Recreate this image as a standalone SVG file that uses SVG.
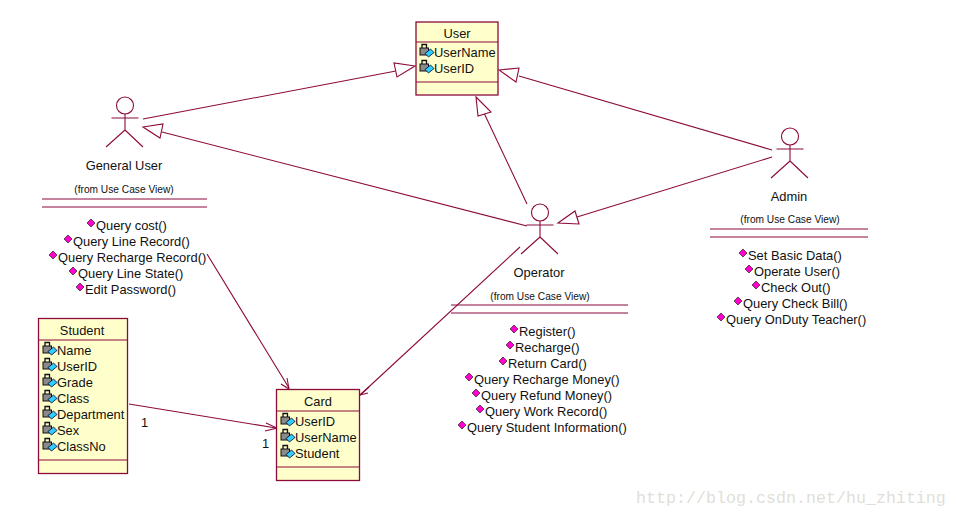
<svg xmlns="http://www.w3.org/2000/svg" width="957" height="516" viewBox="0 0 957 516">
<style>
text{font-family:"Liberation Sans",Arial,sans-serif;font-size:12.9px;fill:#111}
.c{text-anchor:middle}
text.s{font-size:10.2px}
.box{fill:#ffffcc;stroke:#8c0a3c;stroke-width:1.3}
.ln{fill:none;stroke:#8c0a3c;stroke-width:1.1}
.tri{fill:#fff;stroke:#8c0a3c;stroke-width:1.1}
.m{fill:#ff00cc;stroke:#222;stroke-width:.7}
text.wm{font-family:"Liberation Mono",monospace;font-size:16.67px;fill:#dfdfd7}
</style>
<defs>
<g id="attr"><rect x="0" y="1" width="8.500" height="7" fill="#8a8a8a" stroke="#111" stroke-width="1"/><path d="M2 1V-2.500H6.500V1" fill="none" stroke="#111" stroke-width="1.300"/><path d="M5 6.500L10.500 2L14 5.500L8.500 10Z" fill="#33ccff" stroke="#002" stroke-width=".8"/></g>
<path id="op" class="m" d="M0 1L4 -3L8 1L4 5Z"/>
<g id="actor"><circle cx="0" cy="-12.500" r="8.500" class="ln"/><path class="ln" d="M0 -4V12M-13.500 0H13.500M0 12L-19 29M0 12L18 29"/></g>
</defs>
<g id="connectors">
<path class="ln" d="M143 119L396 71M527 204L484 113M772 150L519 76M527 226L162 132M772 157L577 217M520 247L359 396M207 254L289 388M129 404L276 428"/>
<path class="tri" d="M415 66L394 63L397 77Z"/>
<path class="tri" d="M476 97L491 112L478 116Z"/>
<path class="tri" d="M499 70L519 68L516 82Z"/>
<path class="tri" d="M143 127L163 124L160 138Z"/>
<path class="tri" d="M558 223L575 211L579 224Z"/>
<path class="ln" d="M287 378L289 389L281 384M369 387L360 395L368 393M266 423L277 428L265 431"/>
</g>
<g id="user"><rect class="box" x="416" y="22" width="82" height="73"/><path class="ln" d="M416 42H498M416 82H498"/><text class="c" x="457" y="38">User</text><use href="#attr" x="420" y="47"/><text x="434" y="57">UserName</text><use href="#attr" x="420" y="63"/><text x="434" y="73">UserID</text></g>
<g id="general-user"><use href="#actor" x="125" y="118"/><text class="c" x="124" y="170">General User</text><text class="c s" x="124" y="193">(from Use Case View)</text><path class="ln" d="M42 199H207M42 207H207"/>
<use href="#op" x="87" y="222"/><text x="96" y="230">Query cost()</text>
<use href="#op" x="64" y="238"/><text x="73" y="246">Query Line Record()</text>
<use href="#op" x="49" y="254"/><text x="58" y="262">Query Recharge Record()</text>
<use href="#op" x="69" y="270"/><text x="78" y="278">Query Line State()</text>
<use href="#op" x="76" y="286"/><text x="85" y="294">Edit Password()</text></g>
<g id="operator"><use href="#actor" x="540" y="225"/><text class="c" x="539" y="277">Operator</text><text class="c s" x="540" y="300">(from Use Case View)</text><path class="ln" d="M451 305H628M451 313H628"/>
<use href="#op" x="510" y="328"/><text x="519" y="336">Register()</text>
<use href="#op" x="506" y="344"/><text x="515" y="352">Recharge()</text>
<use href="#op" x="499" y="360"/><text x="508" y="368">Return Card()</text>
<use href="#op" x="465" y="376"/><text x="474" y="384">Query Recharge Money()</text>
<use href="#op" x="472" y="392"/><text x="481" y="400">Query Refund Money()</text>
<use href="#op" x="476" y="408"/><text x="485" y="416">Query Work Record()</text>
<use href="#op" x="458" y="424"/><text x="467" y="432">Query Student Information()</text></g>
<g id="admin"><use href="#actor" x="790" y="149"/><text class="c" x="789" y="201">Admin</text><text class="c s" x="790" y="223">(from Use Case View)</text><path class="ln" d="M710 229H868M710 237H868"/>
<use href="#op" x="739" y="252"/><text x="748" y="260">Set Basic Data()</text>
<use href="#op" x="745" y="268"/><text x="754" y="276">Operate User()</text>
<use href="#op" x="752" y="284"/><text x="761" y="292">Check Out()</text>
<use href="#op" x="734" y="300"/><text x="743" y="308">Query Check Bill()</text>
<use href="#op" x="717" y="316"/><text x="726" y="324">Query OnDuty Teacher()</text></g>
<g id="student"><rect class="box" x="38.500" y="318.500" width="89" height="155"/><path class="ln" d="M38 340H128M38 460H128"/><text class="c" x="82" y="335">Student</text>
<use href="#attr" x="43" y="345"/><text x="57" y="355">Name</text>
<use href="#attr" x="43" y="361"/><text x="57" y="371">UserID</text>
<use href="#attr" x="43" y="377"/><text x="57" y="387">Grade</text>
<use href="#attr" x="43" y="393"/><text x="57" y="403">Class</text>
<use href="#attr" x="43" y="409"/><text x="57" y="419">Department</text>
<use href="#attr" x="43" y="425"/><text x="57" y="435">Sex</text>
<use href="#attr" x="43" y="441"/><text x="57" y="451">ClassNo</text></g>
<g id="card"><rect class="box" x="276.500" y="389.500" width="83" height="91"/><path class="ln" d="M276 411H360M276 467H360"/><text class="c" x="318" y="406">Card</text>
<use href="#attr" x="281" y="416"/><text x="295" y="426">UserID</text>
<use href="#attr" x="281" y="432"/><text x="295" y="442">UserName</text>
<use href="#attr" x="281" y="448"/><text x="295" y="458">Student</text></g>
<text x="141" y="427">1</text>
<text x="262" y="448">1</text>
<text class="wm" x="636" y="503">http://blog.csdn.net/hu_zhiting</text>
</svg>
